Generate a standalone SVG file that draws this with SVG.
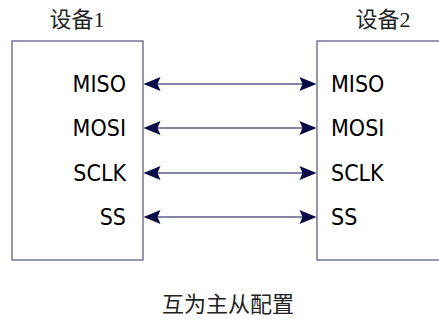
<svg xmlns="http://www.w3.org/2000/svg" width="439" height="323" viewBox="0 0 439 323">
<style>
.box{fill:#fff;stroke:#6b6b93;stroke-width:1.4}
.cn{font-family:"Liberation Serif","Noto Sans CJK SC",serif;font-size:22px;fill:#222;text-anchor:middle}
.lbl{font-family:"DejaVu Sans Condensed","DejaVu Sans",sans-serif;font-stretch:condensed;font-size:23px;fill:#000}
.wire{stroke:#5c5c8a;stroke-width:1.4;fill:none}
.ah{fill:#0b0b45}
</style>
<defs>
<path id="arrL" class="ah" d="M0,0 L17,-7 L14,0 L17,7 Z"/>
<path id="arrR" class="ah" d="M0,0 L-17,-7 L-14,0 L-17,7 Z"/>
</defs>
<rect width="439" height="323" fill="#fff"/>
<g id="device1">
<rect class="box" x="12" y="41" width="131" height="219"/>
<text class="cn" x="77" y="27">设备1</text>
<text class="lbl" x="126" y="92" text-anchor="end">MISO</text>
<text class="lbl" x="126" y="136" text-anchor="end">MOSI</text>
<text class="lbl" x="126" y="181" text-anchor="end">SCLK</text>
<text class="lbl" x="126" y="225" text-anchor="end">SS</text>
</g>
<g id="device2">
<rect class="box" x="317" y="41" width="200" height="219"/>
<text class="cn" x="383" y="27">设备2</text>
<text class="lbl" x="331" y="92">MISO</text>
<text class="lbl" x="331" y="136">MOSI</text>
<text class="lbl" x="331" y="181">SCLK</text>
<text class="lbl" x="331" y="225">SS</text>
</g>
<g id="connectors">
<line class="wire" x1="150" y1="84" x2="310" y2="84"/>
<line class="wire" x1="150" y1="128" x2="310" y2="128"/>
<line class="wire" x1="150" y1="173" x2="310" y2="173"/>
<line class="wire" x1="150" y1="217" x2="310" y2="217"/>
<use href="#arrL" x="143.5" y="84"/><use href="#arrR" x="316.5" y="84"/>
<use href="#arrL" x="143.5" y="128"/><use href="#arrR" x="316.5" y="128"/>
<use href="#arrL" x="143.5" y="173"/><use href="#arrR" x="316.5" y="173"/>
<use href="#arrL" x="143.5" y="217"/><use href="#arrR" x="316.5" y="217"/>
</g>
<g id="caption">
<text class="cn" x="228" y="312">互为主从配置</text>
</g>
</svg>
